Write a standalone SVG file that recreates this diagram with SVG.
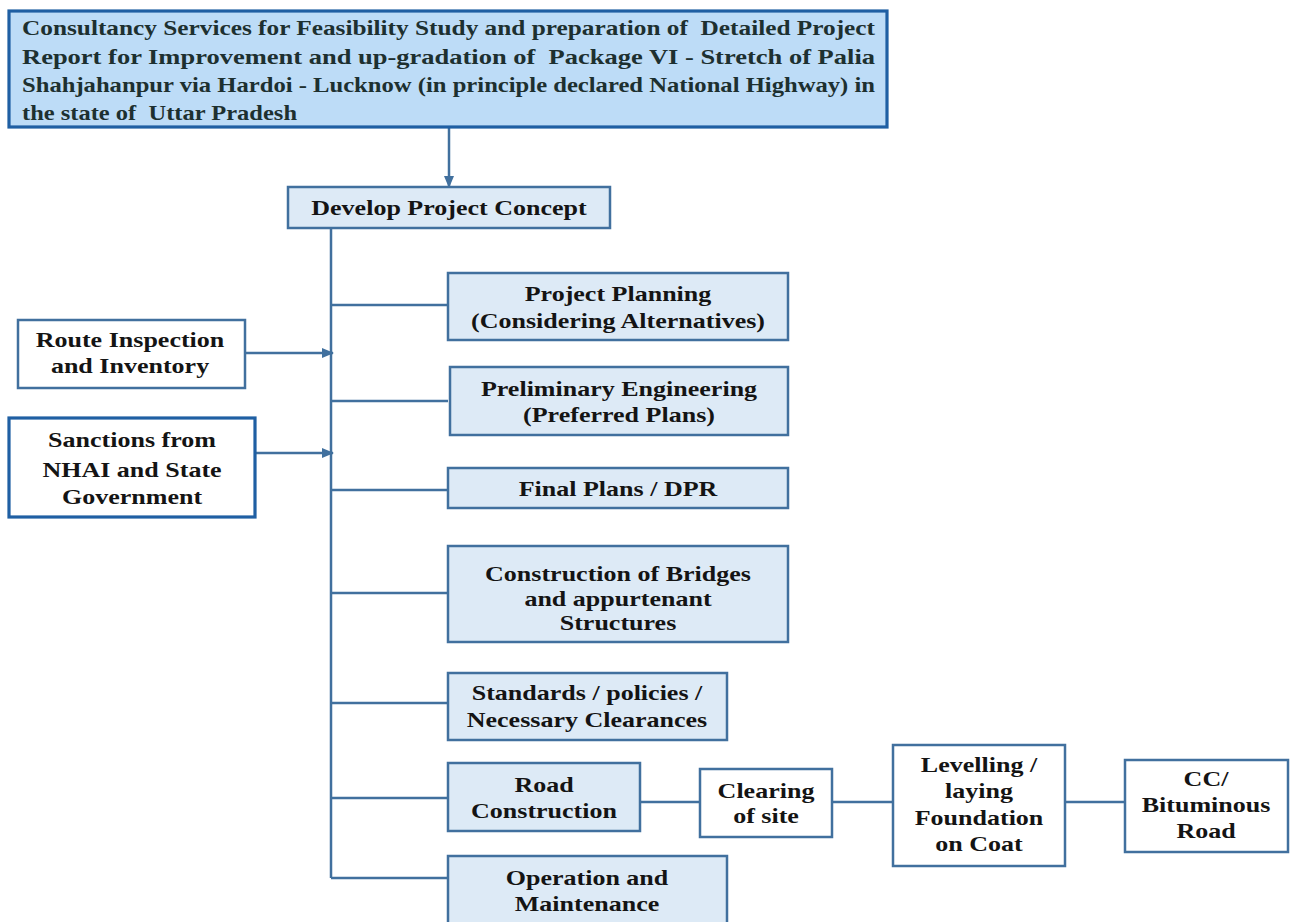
<svg xmlns="http://www.w3.org/2000/svg" width="1293" height="922" viewBox="0 0 1293 922">
<style>
.bg{fill:#ffffff}
.box{fill:#DDEAF6;stroke:#41709E;stroke-width:2.5}
.wbox{fill:#ffffff;stroke:#41709E;stroke-width:2.5}
.sbox{fill:#ffffff;stroke:#1F5FA3;stroke-width:3.2}
.top{fill:#BDDCF7;stroke:#1F5FA3;stroke-width:3.2}
.t{font-family:"Liberation Serif","Times New Roman",serif;font-weight:bold;font-size:21.5px;fill:#141414;text-anchor:middle}
.tt{font-family:"Liberation Serif","Times New Roman",serif;font-weight:bold;font-size:21px;fill:#1d3030}
.ln{stroke:#41709E;stroke-width:2.5;fill:none}
</style>
<defs>
<marker id="ah" markerUnits="userSpaceOnUse" markerWidth="12" markerHeight="10" refX="11" refY="5" orient="auto">
<path d="M0,0 L12,5 L0,10 z" fill="#41709E"/>
</marker>
</defs>
<rect class="bg" x="0" y="0" width="1293" height="922"/>
<g id="connectors">
<line class="ln" x1="449" y1="128" x2="449" y2="187" marker-end="url(#ah)"/>
<line class="ln" x1="331" y1="228" x2="331" y2="878"/>
<line class="ln" x1="331" y1="305" x2="448" y2="305"/>
<line class="ln" x1="331" y1="401" x2="448" y2="401"/>
<line class="ln" x1="331" y1="490" x2="448" y2="490"/>
<line class="ln" x1="331" y1="593" x2="448" y2="593"/>
<line class="ln" x1="331" y1="703" x2="448" y2="703"/>
<line class="ln" x1="331" y1="798" x2="448" y2="798"/>
<line class="ln" x1="331" y1="878" x2="448" y2="878"/>
<line class="ln" x1="245" y1="353" x2="333" y2="353" marker-end="url(#ah)"/>
<line class="ln" x1="255" y1="453" x2="333" y2="453" marker-end="url(#ah)"/>
<line class="ln" x1="640" y1="802" x2="700" y2="802"/>
<line class="ln" x1="832" y1="802" x2="893" y2="802"/>
<line class="ln" x1="1065" y1="802" x2="1125" y2="802"/>
</g>
<g id="title">
<rect class="top" x="9" y="11" width="878" height="116"/>
<text class="tt" xml:space="preserve"><tspan x="22" y="35" textLength="853" lengthAdjust="spacingAndGlyphs">Consultancy Services for Feasibility Study and preparation of  Detailed Project</tspan></text>
<text class="tt" xml:space="preserve"><tspan x="22" y="63.5" textLength="853" lengthAdjust="spacingAndGlyphs">Report for Improvement and up-gradation of  Package VI - Stretch of Palia</tspan></text>
<text class="tt" xml:space="preserve"><tspan x="22" y="92" textLength="853" lengthAdjust="spacingAndGlyphs">Shahjahanpur via Hardoi - Lucknow (in principle declared National Highway) in</tspan></text>
<text class="tt" xml:space="preserve"><tspan x="22" y="120" textLength="275" lengthAdjust="spacingAndGlyphs">the state of  Uttar Pradesh</tspan></text>
</g>
<g id="develop">
<rect class="box" x="288" y="187" width="322" height="41"/>
<text class="t" transform="translate(449,0) scale(1.21,1)"><tspan x="0" y="215">Develop Project Concept</tspan></text>
</g>
<g id="planning">
<rect class="box" x="448" y="273" width="340" height="67"/>
<text class="t" transform="translate(618,0) scale(1.21,1)"><tspan x="0" y="301">Project Planning</tspan><tspan x="0" y="328">(Considering Alternatives)</tspan></text>
</g>
<g id="route">
<rect class="wbox" x="18" y="320" width="227" height="68"/>
<text class="t" transform="translate(130,0) scale(1.21,1)"><tspan x="0" y="347">Route Inspection</tspan><tspan x="0" y="373">and Inventory</tspan></text>
</g>
<g id="preliminary">
<rect class="box" x="450" y="367" width="338" height="68"/>
<text class="t" transform="translate(619,0) scale(1.21,1)"><tspan x="0" y="396">Preliminary Engineering</tspan><tspan x="0" y="422">(Preferred Plans)</tspan></text>
</g>
<g id="sanctions">
<rect class="sbox" x="9" y="418" width="246" height="99"/>
<text class="t" transform="translate(132,0) scale(1.21,1)"><tspan x="0" y="447">Sanctions from</tspan><tspan x="0" y="477">NHAI and State</tspan><tspan x="0" y="504">Government</tspan></text>
</g>
<g id="final">
<rect class="box" x="448" y="468" width="340" height="40"/>
<text class="t" transform="translate(618,0) scale(1.21,1)"><tspan x="0" y="496">Final Plans / DPR</tspan></text>
</g>
<g id="bridges">
<rect class="box" x="448" y="546" width="340" height="96"/>
<text class="t" transform="translate(618,0) scale(1.21,1)"><tspan x="0" y="581">Construction of Bridges</tspan><tspan x="0" y="606">and appurtenant</tspan><tspan x="0" y="630">Structures</tspan></text>
</g>
<g id="standards">
<rect class="box" x="448" y="673" width="279" height="67"/>
<text class="t" transform="translate(587,0) scale(1.21,1)"><tspan x="0" y="700">Standards / policies /</tspan><tspan x="0" y="727">Necessary Clearances</tspan></text>
</g>
<g id="road">
<rect class="box" x="448" y="763" width="192" height="68"/>
<text class="t" transform="translate(544,0) scale(1.21,1)"><tspan x="0" y="792">Road</tspan><tspan x="0" y="818">Construction</tspan></text>
</g>
<g id="clearing">
<rect class="wbox" x="700" y="769" width="132" height="68"/>
<text class="t" transform="translate(766,0) scale(1.21,1)"><tspan x="0" y="798">Clearing</tspan><tspan x="0" y="823">of site</tspan></text>
</g>
<g id="levelling">
<rect class="wbox" x="893" y="745" width="172" height="121"/>
<text class="t" transform="translate(979,0) scale(1.21,1)"><tspan x="0" y="772">Levelling /</tspan><tspan x="0" y="798">laying</tspan><tspan x="0" y="825">Foundation</tspan><tspan x="0" y="851">on Coat</tspan></text>
</g>
<g id="cc">
<rect class="wbox" x="1125" y="760" width="163" height="92"/>
<text class="t" transform="translate(1206,0) scale(1.21,1)"><tspan x="0" y="786">CC/</tspan><tspan x="0" y="812">Bituminous</tspan><tspan x="0" y="838">Road</tspan></text>
</g>
<g id="operation">
<rect class="box" x="448" y="856" width="279" height="80"/>
<text class="t" transform="translate(587,0) scale(1.21,1)"><tspan x="0" y="885">Operation and</tspan><tspan x="0" y="911">Maintenance</tspan></text>
</g>
</svg>
